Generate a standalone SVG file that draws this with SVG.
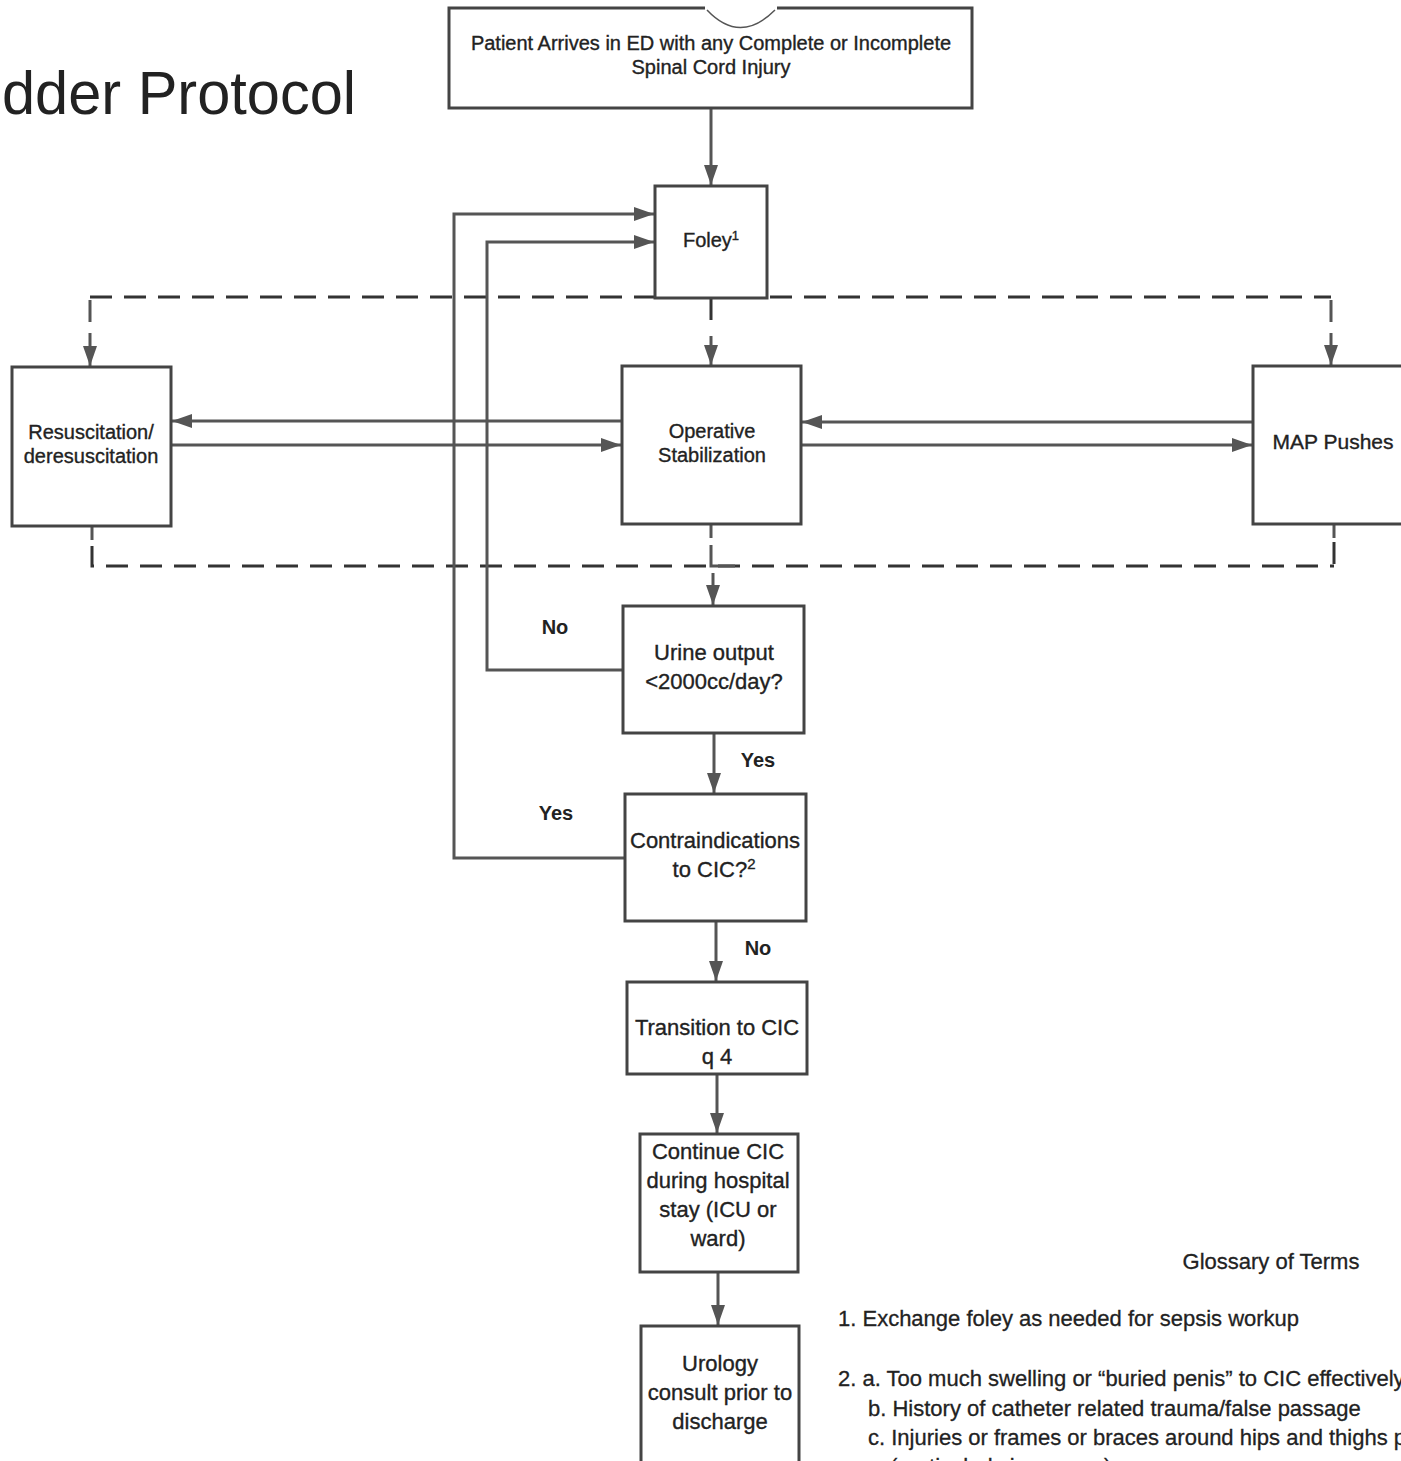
<svg xmlns="http://www.w3.org/2000/svg" width="1401" height="1461" viewBox="0 0 1401 1461">
<style>
  .box{fill:#fff;stroke:#444;stroke-width:3}
  .t{font-family:"Liberation Sans",Arial,sans-serif;fill:#222;stroke:#222;stroke-width:0.35;text-anchor:middle}
  .s20{font-size:20px}
  .s22{font-size:22px}
  .lbl{font-family:"Liberation Sans",Arial,sans-serif;fill:#222;font-weight:bold;font-size:20px;text-anchor:middle}
  .c{fill:none;stroke:#555;stroke-width:3}
  .d{fill:none;stroke:#333;stroke-width:3;stroke-dasharray:22 12}
  .g{font-family:"Liberation Sans",Arial,sans-serif;fill:#222;stroke:#222;stroke-width:0.3;font-size:22px}
</style>
<defs>
  <marker id="ah" viewBox="0 0 20 14" refX="20" refY="7" markerWidth="20" markerHeight="14" markerUnits="userSpaceOnUse" orient="auto">
    <path d="M0,0 L20,7 L0,14 Z" fill="#555"/>
  </marker>
</defs>
<rect width="1401" height="1461" fill="#fff"/>

<text x="2" y="114" font-family="Liberation Sans,Arial,sans-serif" font-size="61" fill="#222" textLength="354" lengthAdjust="spacingAndGlyphs">dder Protocol</text>

<g id="connectors">
  <path class="c" d="M711,108 V185" marker-end="url(#ah)"/>
  <path class="d" d="M90,297 H1331"/>
  <path class="c" d="M90,300 V322"/>
  <path class="c" d="M90,333 V366" marker-end="url(#ah)"/>
  <path class="c" d="M1331,300 V322"/>
  <path class="c" d="M1331,333 V365" marker-end="url(#ah)"/>
  <path class="d" d="M711,298 V330"/>
  <path class="c" d="M711,336 V365" marker-end="url(#ah)"/>
  <path class="c" d="M622,421 H172" marker-end="url(#ah)"/>
  <path class="c" d="M172,445 H621" marker-end="url(#ah)"/>
  <path class="c" d="M1253,422 H802" marker-end="url(#ah)"/>
  <path class="c" d="M802,445 H1252" marker-end="url(#ah)"/>
  <path class="c" d="M92,526 V540"/>
  <path class="d" d="M92,546 V566 H1334"/>
  <path class="c" d="M1334,524 V538"/>
  <path class="d" d="M1334,542 V566"/>
  <path class="c" d="M711,524 V538"/>
  <path class="c" d="M711,545 V566 H735"/>
  <path class="c" d="M713,573 V605" marker-end="url(#ah)"/>
  <path class="c" d="M623,670 H487 V242 H654" marker-end="url(#ah)"/>
  <path class="c" d="M625,858 H454 V214 H654" marker-end="url(#ah)"/>
  <path class="c" d="M714,733 V793" marker-end="url(#ah)"/>
  <path class="c" d="M716,921 V981" marker-end="url(#ah)"/>
  <path class="c" d="M717,1074 V1133" marker-end="url(#ah)"/>
  <path class="c" d="M718,1272 V1325" marker-end="url(#ah)"/>
</g>

<g id="n-start">
  <path class="box" d="M705,8 H449 V108 H972 V8 H777"/>
  <path d="M707,10 Q740,45 775,10" fill="none" stroke="#555" stroke-width="1.5"/>
  <text class="t s20" x="711" y="50">Patient Arrives in ED with any Complete or Incomplete</text>
  <text class="t s20" x="711" y="74">Spinal Cord Injury</text>
</g>
<g id="n-foley">
  <rect class="box" x="655" y="186" width="112" height="112"/>
  <text class="t s20" x="711" y="247">Foley<tspan font-size="13" dy="-7">1</tspan></text>
</g>
<g id="n-resus">
  <rect class="box" x="12" y="367" width="159" height="159"/>
  <text class="t s20" x="91" y="439">Resuscitation/</text>
  <text class="t s20" x="91" y="463">deresuscitation</text>
</g>
<g id="n-op">
  <rect class="box" x="622" y="366" width="179" height="158"/>
  <text class="t s20" x="712" y="438">Operative</text>
  <text class="t s20" x="712" y="462">Stabilization</text>
</g>
<g id="n-map">
  <rect class="box" x="1253" y="366" width="160" height="158"/>
  <text class="t" font-size="21" x="1333" y="449">MAP Pushes</text>
</g>
<g id="n-urine">
  <rect class="box" x="623" y="606" width="181" height="127"/>
  <text class="t s22" x="714" y="660">Urine output</text>
  <text class="t s22" x="714" y="689">&lt;2000cc/day?</text>
</g>
<g id="n-contra">
  <rect class="box" x="625" y="794" width="181" height="127"/>
  <text class="t s22" x="715" y="848">Contraindications</text>
  <text class="t s22" x="714" y="877">to CIC?<tspan font-size="15" dy="-8">2</tspan></text>
</g>
<g id="n-trans">
  <rect class="box" x="627" y="982" width="180" height="92"/>
  <text class="t s22" x="717" y="1035">Transition to CIC</text>
  <text class="t s22" x="717" y="1064">q 4</text>
</g>
<g id="n-cont">
  <rect class="box" x="640" y="1134" width="158" height="138"/>
  <text class="t s22" x="718" y="1159">Continue CIC</text>
  <text class="t s22" x="718" y="1188">during hospital</text>
  <text class="t s22" x="718" y="1217">stay (ICU or</text>
  <text class="t s22" x="718" y="1246">ward)</text>
</g>
<g id="n-uro">
  <rect class="box" x="641" y="1326" width="158" height="145"/>
  <text class="t s22" x="720" y="1371">Urology</text>
  <text class="t s22" x="720" y="1400">consult prior to</text>
  <text class="t s22" x="720" y="1429">discharge</text>
</g>

<g id="labels">
  <text class="lbl" x="555" y="634">No</text>
  <text class="lbl" x="758" y="767">Yes</text>
  <text class="lbl" x="556" y="820">Yes</text>
  <text class="lbl" x="758" y="955">No</text>
</g>

<g id="glossary">
  <text class="g" x="1271" y="1269" text-anchor="middle">Glossary of Terms</text>
  <text class="g" x="838" y="1326">1. Exchange foley as needed for sepsis workup</text>
  <text class="g" x="838" y="1386">2. a. Too much swelling or “buried penis” to CIC effectively</text>
  <text class="g" x="868" y="1416">b. History of catheter related trauma/false passage</text>
  <text class="g" x="868" y="1445">c. Injuries or frames or braces around hips and thighs p</text>
  <text class="g" x="890" y="1474">(particularly in women)</text>
</g>
</svg>
